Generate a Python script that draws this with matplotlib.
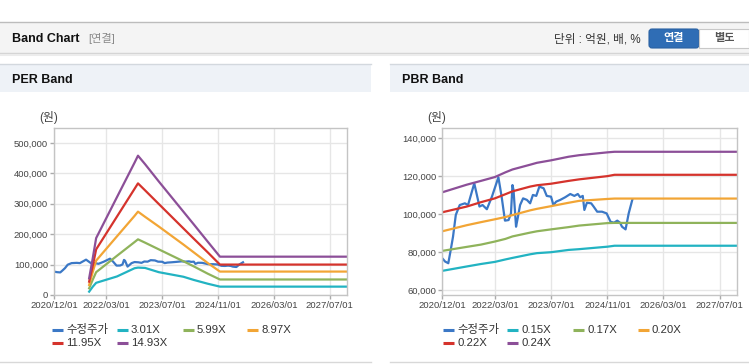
import matplotlib
matplotlib.use("Agg")
import matplotlib.pyplot as plt
import numpy as np
from matplotlib.patches import Rectangle, FancyBboxPatch
from matplotlib.lines import Line2D
from matplotlib.transforms import Affine2D
from matplotlib.ticker import FuncFormatter

plt.rcParams["font.family"] = ["Liberation Sans", "Noto Sans CJK KR"]

# ============================================================
# 데이터
price_dates = np.array([
    "2020-12-01", "2020-12-25", "2021-01-22", "2021-02-12", "2021-03-04", "2021-03-28",
    "2021-05-01", "2021-06-15", "2021-07-12", "2021-09-04", "2021-10-19", "2021-11-15",
    "2021-12-22", "2022-02-04", "2022-04-01", "2022-04-29", "2022-05-28", "2022-06-28",
    "2022-07-19", "2022-08-01", "2022-08-10", "2022-09-01", "2022-09-15", "2022-10-06",
    "2022-11-01", "2022-12-04", "2023-01-01", "2023-01-25", "2023-02-23", "2023-03-22",
    "2023-04-28", "2023-05-25", "2023-07-01", "2023-07-22", "2023-08-15", "2023-09-19",
    "2023-11-01", "2023-12-15", "2024-01-19", "2024-02-18", "2024-03-10", "2024-04-01",
    "2024-04-15", "2024-05-07", "2024-06-13", "2024-07-04", "2024-08-04", "2024-09-15",
    "2024-10-25", "2024-11-28", "2024-12-28", "2025-01-25", "2025-02-18", "2025-03-07",
    "2025-04-07", "2025-05-04", "2025-06-04",
], dtype="datetime64[D]")
price = [
    76800, 75100, 74200, 81200, 88200, 99600,
    104800, 105700, 104800, 116200, 104000, 104800,
    102600, 109200, 119400, 109200, 96600, 96900,
    100400, 115300, 112700, 93400, 97800, 104800,
    108300, 107500, 105700, 110100, 109600, 114500,
    113600, 109600, 109200, 104800, 106600, 107500,
    108900, 110600, 109600, 110600, 108900, 109600,
    102200, 106000, 105700, 104000, 101300, 101300,
    100400, 96000, 95500, 96600, 95500, 93400,
    92000, 100400, 107500,
]

# PER 밴드
per_dates = np.array([
    "2021-10-01", "2021-11-01", "2021-12-01", "2022-06-01", "2022-11-01", "2022-12-01",
    "2023-02-01", "2023-06-01", "2024-01-01", "2024-04-01", "2024-08-01", "2024-11-15",
    "2027-12-01",
], dtype="datetime64[D]")
per_labels = ["3.01X", "5.99X", "8.97X", "11.95X", "14.93X"]
per_301 = [11000, 27000, 40000, 61000, 88000, 90000, 89000, 75000, 60000, 49500, 37000, 27500, 27500]
per_599 = [22000, 50000, 75000, 129000, 174000, 183000, 172000, 150000, 111000, 94000, 70000, 51000, 51000]
per_897 = [33000, 75000, 113000, 193000, 260000, 274000, 257000, 225000, 166000, 140000, 105000, 77000, 77000]
per_1195 = [44000, 95000, 150000, 258000, 349000, 367000, 344000, 299000, 219000, 185000, 140000, 100000, 100000]
per_1493 = [55000, 120000, 187000, 322000, 435000, 458000, 430000, 373000, 274000, 232000, 175000, 126000, 126000]

# PBR 밴드
pbr_dates = np.array([
    "2020-12-01", "2021-07-01", "2021-11-01", "2022-03-01", "2022-06-01", "2022-08-01",
    "2023-01-01", "2023-03-01", "2023-07-01", "2023-12-01", "2024-03-01", "2024-11-01",
    "2025-01-01", "2027-12-01",
], dtype="datetime64[D]")
pbr_labels = ["0.15X", "0.17X", "0.20X", "0.22X", "0.24X"]
pbr_015 = [70200, 72500, 73800, 74900, 76200, 77000, 78900, 79500, 80000, 81200, 81600, 82900, 83400, 83400]
pbr_017 = [80700, 82800, 84000, 85600, 87000, 88300, 90300, 91000, 92000, 93200, 94000, 95300, 95400, 95400]
pbr_020 = [91000, 94200, 95800, 97300, 98500, 99500, 102000, 102800, 104200, 106000, 107000, 108000, 108200, 108200]
pbr_022 = [101000, 104000, 106300, 108300, 110500, 112000, 114500, 115200, 116000, 117500, 118300, 120000, 120700, 120700]
pbr_024 = [111500, 115500, 117500, 119500, 122000, 123500, 126000, 127000, 128300, 130200, 131000, 132500, 132800, 132800]

x_ticks = np.array(["2020-12-01", "2022-03-01", "2023-07-01", "2024-11-01", "2026-03-01", "2027-07-01"],
                   dtype="datetime64[D]")
x_tick_labels = ["2020/12/01", "2022/03/01", "2023/07/01", "2024/11/01", "2026/03/01", "2027/07/01"]
x_range = np.array(["2020-12-01", "2027-12-01"], dtype="datetime64[D]")

per_yticks = [0, 100000, 200000, 300000, 400000, 500000]
pbr_yticks = [60000, 80000, 100000, 120000, 140000]

price_color = "#3b78c6"
band_colors = ["#22b3c2", "#8fb35b", "#f2a535", "#d5332c", "#8c4f98"]

# ============================================================
W, H = 749, 364
fig = plt.figure(figsize=(W / 100, H / 100), dpi=100)
fig.patch.set_facecolor("white")
# 픽셀 좌표 (좌상단 기준)
px = Affine2D().scale(1 / 100, -1 / 100).translate(0, H / 100) + fig.dpi_scale_trans


def rect(x0, y0, x1, y1, **kw):
    fig.add_artist(Rectangle((x0, y0), x1 - x0, y1 - y0, transform=px, **kw))


def hline(x0, x1, y, color, lw=1):
    fig.add_artist(Line2D([x0, x1], [y, y], transform=px, color=color, lw=lw))


# 상단 헤더
rect(0, 22, W, 53, facecolor="#f4f4f4", edgecolor="none")
hline(0, W, 22, "#bcbcbc")
hline(0, W, 53, "#d4d4d4")
hline(0, W, 54.5, "#ececec", lw=1.5)
fig.text(12, 39, "Band Chart", transform=px, fontsize=9, fontweight="bold", va="center", color="#111")
fig.text(88, 39, "[연결]", transform=px, fontsize=8, va="center", color="#8a8a8a")
fig.text(641, 39, "단위 : 억원, 배, %", transform=px, fontsize=8.4, va="center", ha="right", color="#333")
fig.add_artist(FancyBboxPatch((649, 29), 50, 19, boxstyle="round,pad=0,rounding_size=3",
                              transform=px, facecolor="#2f6db5", edgecolor="#2a62a3", lw=0.8))
fig.text(674, 38.5, "연결", transform=px, fontsize=8, fontweight="bold", va="center", ha="center", color="white")
rect(699, 29, 748.5, 48, facecolor="white", edgecolor="#c8c8c8", lw=0.8)
fig.text(724, 38.5, "별도", transform=px, fontsize=8, fontweight="bold", va="center", ha="center", color="#555")

# 패널 헤더
for x0, x1, title in [(0, 371, "PER Band"), (390, W, "PBR Band")]:
    rect(x0, 64, x1, 92, facecolor="#eef2f7", edgecolor="none")
    hline(x0, x1, 64, "#d3d8de")
    hline(x0, x1, 362, "#d8d8d8")
    fig.text(x0 + 12, 80, title, transform=px, fontsize=9, fontweight="bold", va="center", color="#111")


def make_axes(x0, y0, x1, y1):
    ax = fig.add_axes([x0 / W, 1 - y1 / H, (x1 - x0) / W, (y1 - y0) / H])
    for s in ax.spines.values():
        s.set_color("#c4c4c4")
        s.set_linewidth(1)
    ax.grid(True, color="#e6e6e6", lw=1)
    ax.set_axisbelow(True)
    ax.tick_params(labelsize=6.8, colors="#aaaaaa", labelcolor="#444444", length=3, width=1, pad=1.5)
    ax.set_xlim(x_range[0], x_range[1])
    ax.set_xticks(x_ticks)
    ax.set_xticklabels(x_tick_labels)
    ax.yaxis.set_major_formatter(FuncFormatter(lambda v, p: f"{int(v):,}"))
    return ax


def draw_legend(labels, colors, xs, ys):
    for i, (lab, c) in enumerate(zip(labels, colors)):
        x, y = xs[i % 4], ys[i // 4]
        fig.add_artist(Line2D([x, x + 11], [y, y], transform=px, color=c, lw=2.2, solid_capstyle="butt"))
        fig.text(x + 14, y, lab, transform=px, fontsize=8.2, va="center", color="#333")


# PER Band
ax1 = make_axes(54.3, 128, 347.3, 295)
ax1.plot(price_dates, price, color=price_color, lw=1.6)
for vals, c in zip([per_301, per_599, per_897, per_1195, per_1493], band_colors):
    ax1.plot(per_dates, vals, color=c, lw=1.6)
ax1.set_ylim(0, 549000)
ax1.set_yticks(per_yticks)
fig.text(49, 117, "(원)", transform=px, fontsize=8.5, va="center", ha="center", color="#444")
draw_legend(["수정주가"] + per_labels, [price_color] + band_colors, [52, 117, 183, 247], [330, 343])

# PBR Band
ax2 = make_axes(442.3, 128, 737.3, 295)
ax2.plot(price_dates, price, color=price_color, lw=1.6)
for vals, c in zip([pbr_015, pbr_017, pbr_020, pbr_022, pbr_024], band_colors):
    ax2.plot(pbr_dates, vals, color=c, lw=1.6)
ax2.set_ylim(57500, 145300)
ax2.set_yticks(pbr_yticks)
fig.text(437, 117, "(원)", transform=px, fontsize=8.5, va="center", ha="center", color="#444")
draw_legend(["수정주가"] + pbr_labels, [price_color] + band_colors, [443, 507, 573, 638], [330, 343])

fig.savefig("out.png", dpi=100)
